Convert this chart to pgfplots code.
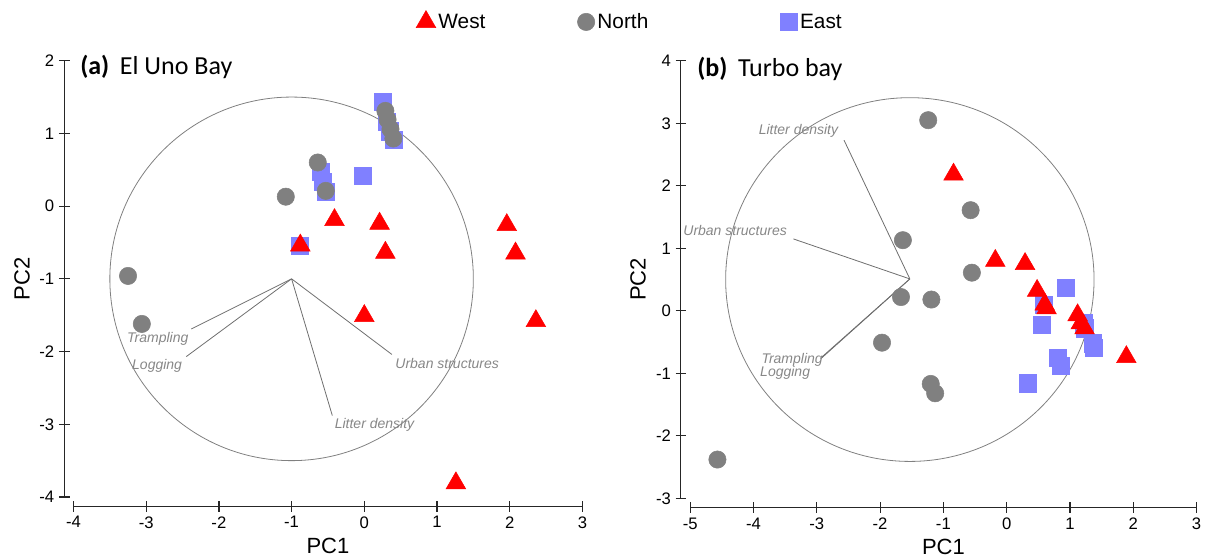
\documentclass[border=0pt]{standalone}
\usepackage{fontspec}
\setmainfont{Liberation Sans}
\newfontfamily\carlito{Carlito}
\usepackage{pgfplots}
\pgfplotsset{compat=1.18}
\definecolor{westc}{RGB}{255,0,0}
\definecolor{northc}{RGB}{128,128,128}
\definecolor{eastc}{RGB}{128,128,255}
\definecolor{loadc}{RGB}{110,110,110}
\definecolor{loadtxt}{RGB}{135,135,135}
\def\u{0.75pt}
\tikzset{loadlab/.style={font=\fontsize{10.5}{12}\selectfont\itshape, text=loadtxt, inner sep=0pt}}
\pgfplotsset{
  pca/.style={
    scale only axis,
    axis x line*=bottom, axis y line*=left,
    axis x line shift=7pt, axis y line shift=7pt,
    tick align=center, major tick length=8pt,
    axis line style={draw=black!85, line width=0.9pt},
    every tick/.style={draw=black!85, line width=0.9pt},
    tick label style={font=\fontsize{12.5}{14}\selectfont},
    label style={font=\fontsize{16.5}{19}\selectfont},
    x label style={at={(axis description cs:0.5,-0.112)}, anchor=center},
    y label style={at={(axis description cs:-0.101,0.5)}, anchor=center, rotate=0},
    clip=false,
    xlabel={PC1}, ylabel={PC2},
    westst/.style={only marks, mark=triangle*, mark size=8.5pt, mark options={draw=westc, fill=westc}},
    northst/.style={only marks, mark=*, mark size=6.5pt, mark options={draw=northc, fill=northc}},
    eastst/.style={only marks, mark=square*, mark size=6.4pt, mark options={draw=eastc, fill=eastc}},
    loadst/.style={loadc, line width=0.6pt, no marks, forget plot},
  },
}
\begin{document}
\begin{tikzpicture}
\useasboundingbox (0,0) rectangle ({1207*\u},{-559*\u});
% ---------------- (a) El Uno Bay ----------------
\begin{axis}[pca,
  at={({73.5*\u},{-497*\u})}, anchor=south west,
  width={508.9*\u}, height={436.3*\u},
  xmin=-4, xmax=3, ymin=-4, ymax=2,
  xtick={-4,-3,-2,-1,0,1,2,3}, xticklabels={-4,-3,-2,-1,0,1,2,3},
  ytick={-4,-3,-2,-1,0,1,2}, yticklabels={-4,-3,-2,-1,0,1,2},
  reverse legend,
  legend columns=3,
  legend style={at={(0.665,1.089)}, anchor=west, draw=none, fill=none,
    font=\fontsize{15.6}{18}\selectfont},
  legend cell align=left,
]
\draw[northc, line width=0.6pt] (axis cs:-1,-1) ellipse [x radius=2.5, y radius=2.5];
\addplot[eastst] coordinates {
(0.25,1.44) (0.31,1.16) (0.35,1.03) (0.40,0.91) (-0.02,0.42)
(-0.60,0.47) (-0.57,0.33) (-0.53,0.20) (-0.89,-0.55)};
\addlegendentry{East}
\addplot[northst] coordinates {
(-0.64,0.60) (-0.53,0.21) (-1.08,0.13) (-3.25,-0.96) (-3.06,-1.62)
(0.29,1.31) (0.32,1.19) (0.36,1.06) (0.40,0.93)};
\addlegendentry{North\hspace*{97pt}\mbox{}}
\addplot[westst] coordinates {
(-0.41,-0.19) (0.21,-0.24) (-0.88,-0.54) (0.29,-0.64) (1.96,-0.26)
(2.08,-0.65) (0.00,-1.51) (2.36,-1.58) (1.26,-3.81)};
\addlegendentry{West\hspace*{67pt}\mbox{}}
\addplot[loadst] coordinates {(-1,-1) (-2.38,-1.69)};
\addplot[loadst] coordinates {(-1,-1) (-2.45,-2.07)};
\addplot[loadst] coordinates {(-1,-1) (-0.44,-2.88)};
\addplot[loadst] coordinates {(-1,-1) (0.38,-2.04)};
\node[loadlab] at (axis cs:-2.84,-1.82) {Trampling};
\node[loadlab] at (axis cs:-2.85,-2.19) {Logging};
\node[loadlab] at (axis cs:1.14,-2.16) {Urban structures};
\node[loadlab] at (axis cs:0.14,-3.01) {Litter density};
\end{axis}
% ---------------- (b) Turbo bay ----------------
\begin{axis}[pca,
  at={({690.2*\u},{-498.3*\u})}, anchor=south west,
  width={506.4*\u}, height={437.5*\u},
  xmin=-5, xmax=3, ymin=-3, ymax=4,
  xtick={-5,-4,-3,-2,-1,0,1,2,3}, xticklabels={-5,-4,-3,-2,-1,0,1,2,3},
  ytick={-3,-2,-1,0,1,2,3,4}, yticklabels={-3,-2,-1,0,1,2,3,4},
  y label style={at={(axis description cs:-0.103,0.5)}},
]
\draw[northc, line width=0.6pt] (axis cs:-1.53,0.50) ellipse [x radius=2.91, y radius=2.91];
\addplot[eastst] coordinates {
(0.93,0.37) (0.59,0.09) (0.55,-0.22) (1.21,-0.20) (1.24,-0.28)
(1.36,-0.52) (1.37,-0.59) (0.80,-0.75) (0.86,-0.88) (0.34,-1.16)};
\addplot[northst] coordinates {
(-1.24,3.05) (-1.64,1.13) (-1.67,0.22) (-1.19,0.18) (-1.97,-0.51)
(-1.20,-1.17) (-1.13,-1.32) (-4.57,-2.38) (-0.57,1.61) (-0.55,0.61)};
\addplot[westst] coordinates {
(-0.84,2.18) (-0.18,0.80) (0.29,0.75) (0.48,0.32) (0.60,0.10)
(0.63,0.04) (1.12,-0.07) (1.17,-0.20) (1.23,-0.28) (1.89,-0.74)};
\addplot[loadst] coordinates {(-1.53,0.51) (-2.57,2.73)};
\addplot[loadst] coordinates {(-1.53,0.51) (-3.37,1.15)};
\addplot[loadst] coordinates {(-1.53,0.51) (-2.92,-0.74)};
\addplot[loadst] coordinates {(-1.53,0.51) (-2.94,-0.77)};
\node[loadlab] at (axis cs:-3.29,2.88) {Litter density};
\node[loadlab] at (axis cs:-4.29,1.29) {Urban structures};
\node[loadlab] at (axis cs:-3.39,-0.79) {Trampling};
\node[loadlab] at (axis cs:-3.50,-0.99) {Logging};
\end{axis}
% titles
\node[anchor=base west, inner sep=0pt] at ({80*\u},{-74.5*\u})
  {\carlito\fontsize{19.5}{22}\selectfont\bfseries (a)\hspace{8pt}\mdseries El Uno Bay};
\node[anchor=base west, inner sep=0pt] at ({697*\u},{-76.5*\u})
  {\carlito\fontsize{19.5}{22}\selectfont\bfseries (b)\hspace{8pt}\mdseries Turbo bay};
\end{tikzpicture}
\end{document}
